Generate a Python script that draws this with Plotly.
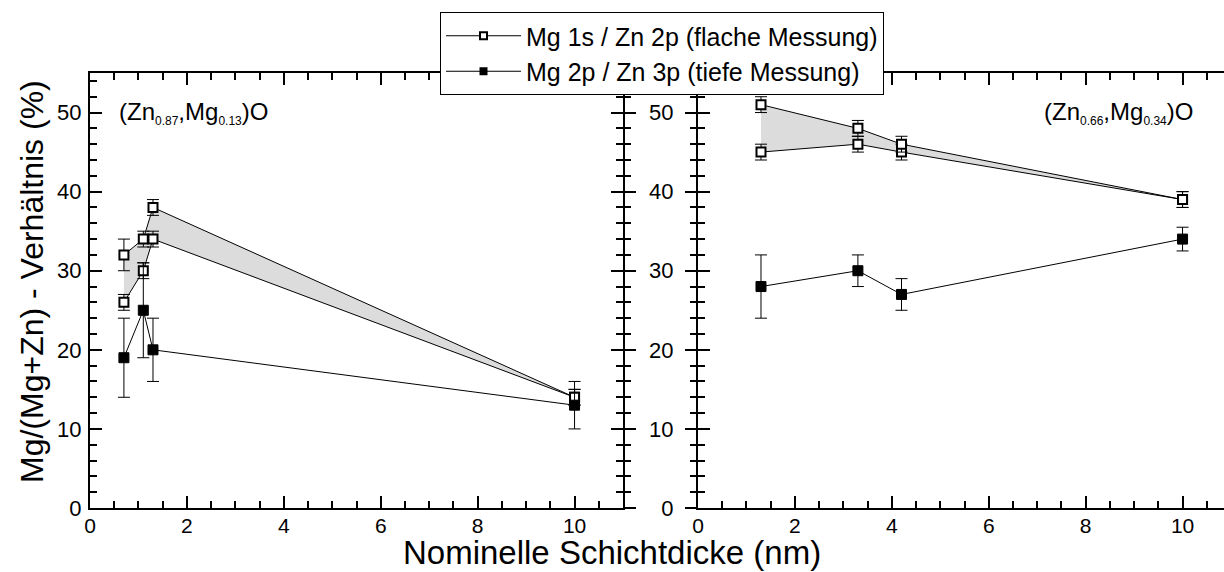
import plotly.graph_objects as go

# ---------------- data ----------------
left_x = [0.7, 1.1, 1.3, 10]
left_flach_upper = [32, 34, 38, 14]
left_flach_upper_err = [2, 1, 1, 1]
left_flach_lower = [26, 30, 34, 14]
left_flach_lower_err = [1, 1, 1, 1]
left_tief = [19, 25, 20, 13]
left_tief_err = [5, 6, 4, 3]

right_x = [1.3, 3.3, 4.2, 10]
right_flach_upper = [51, 48, 46, 39]
right_flach_upper_err = [1, 1, 1, 1]
right_flach_lower = [45, 46, 45, 39]
right_flach_lower_err = [1, 1, 1, 1]
right_tief = [28, 30, 27, 34]
right_tief_err = [4, 2, 2, 1.5]

legend_names = ["Mg 1s / Zn 2p (flache Messung)", "Mg 2p / Zn 3p (tiefe Messung)"]
SUB = "<sub><span style='font-size:12px'>{}</span></sub>"
panel_labels = ["(Zn" + SUB.format("0.87") + ",Mg" + SUB.format("0.13") + ")O",
                "(Zn" + SUB.format("0.66") + ",Mg" + SUB.format("0.34") + ")O"]
x_title = "Nominelle Schichtdicke (nm)"
y_title = "Mg/(Mg+Zn) - Verhältnis (%)"

FONT = "Liberation Sans, Arial, sans-serif"
FILL = "#dcdcdc"

open_marker = dict(symbol="square", size=9, color="white", line=dict(color="black", width=2))
solid_marker = dict(symbol="square", size=10, color="black", line=dict(color="black", width=1))


def err(a):
    return dict(type="data", array=a, visible=True, color="black", thickness=1, width=6)


fig = go.Figure()

# left panel, open series: lower edge then upper edge (filled between)
fig.add_trace(go.Scatter(x=left_x, y=left_flach_lower, mode="lines+markers",
                         line=dict(color="black", width=1), marker=open_marker,
                         error_y=err(left_flach_lower_err), showlegend=False,
                         xaxis="x", yaxis="y"))
fig.add_trace(go.Scatter(x=left_x, y=left_flach_upper, mode="lines+markers",
                         line=dict(color="black", width=1), marker=open_marker,
                         fill="tonexty", fillcolor=FILL,
                         error_y=err(left_flach_upper_err), showlegend=False,
                         xaxis="x", yaxis="y"))
# right panel, open series
fig.add_trace(go.Scatter(x=right_x, y=right_flach_lower, mode="lines+markers",
                         line=dict(color="black", width=1), marker=open_marker,
                         error_y=err(right_flach_lower_err), showlegend=False,
                         xaxis="x2", yaxis="y2"))
fig.add_trace(go.Scatter(x=right_x, y=right_flach_upper, mode="lines+markers",
                         line=dict(color="black", width=1), marker=open_marker,
                         fill="tonexty", fillcolor=FILL,
                         error_y=err(right_flach_upper_err), showlegend=False,
                         xaxis="x2", yaxis="y2"))
# solid series
fig.add_trace(go.Scatter(x=left_x, y=left_tief, mode="lines+markers",
                         line=dict(color="black", width=1), marker=solid_marker,
                         error_y=err(left_tief_err), showlegend=False,
                         xaxis="x", yaxis="y"))
fig.add_trace(go.Scatter(x=right_x, y=right_tief, mode="lines+markers",
                         line=dict(color="black", width=1), marker=solid_marker,
                         error_y=err(right_tief_err), showlegend=False,
                         xaxis="x2", yaxis="y2"))

# legend entries
fig.add_trace(go.Scatter(x=[None], y=[None], mode="lines+markers", name=legend_names[0],
                         line=dict(color="black", width=1),
                         marker=dict(symbol="square", size=7, color="white", line=dict(color="black", width=2)),
                         xaxis="x", yaxis="y"))
fig.add_trace(go.Scatter(x=[None], y=[None], mode="lines+markers", name=legend_names[1],
                         line=dict(color="black", width=1),
                         marker=dict(symbol="square", size=8, color="black"),
                         xaxis="x", yaxis="y"))
# empty traces to activate overlay axes
fig.add_trace(go.Scatter(x=[None], y=[None], showlegend=False, xaxis="x", yaxis="y3"))
fig.add_trace(go.Scatter(x=[None], y=[None], showlegend=False, xaxis="x2", yaxis="y4"))

L, R, T, B = 90, 0, 73, 64
W, H = 1224, 572
pw = W - L - R
ph = H - T - B
x1_end = (623 - L) / pw
x2_start = (698 - L) / pw
px_per_unit = (623 - 90) / 11.0
x2_max = (W - 698) / px_per_unit

tickfont = dict(family=FONT, size=22, color="black")
xtickfont = dict(family=FONT, size=21, color="black")
common_x = dict(dtick=2, tick0=0, ticks="inside", ticklen=12, tickwidth=2, tickcolor="black",
                showline=True, linewidth=2, linecolor="black", mirror="ticks",
                showgrid=False, zeroline=False, tickfont=xtickfont, ticklabelstandoff=-2,
                minor=dict(dtick=0.5, ticks="inside", ticklen=7, tickwidth=2, tickcolor="black", showgrid=False))
common_y = dict(range=[0, 55], dtick=10, tick0=0, ticks="inside", ticklen=12, tickwidth=2, tickcolor="black",
                showline=True, linewidth=2, linecolor="black",
                showgrid=False, zeroline=False, tickfont=tickfont,
                minor=dict(dtick=2, ticks="inside", ticklen=7, tickwidth=2, tickcolor="black", showgrid=False))
out_y = dict(range=[0, 55], dtick=10, tick0=0, ticks="outside", ticklen=12, tickwidth=2, tickcolor="black",
             showline=False, showgrid=False, zeroline=False, showticklabels=False,
             minor=dict(dtick=2, ticks="outside", ticklen=7, tickwidth=2, tickcolor="black", showgrid=False))

fig.update_layout(
    width=W, height=H,
    margin=dict(l=L, r=R, t=T, b=B, autoexpand=False),
    paper_bgcolor="white", plot_bgcolor="white",
    font=dict(family=FONT, color="black"),
    xaxis=dict(domain=[0, x1_end], range=[0, 11], anchor="y", **common_x),
    yaxis=dict(domain=[0, 1], anchor="x", mirror="ticks", ticklabelstandoff=2, **common_y),
    xaxis2=dict(domain=[x2_start, 1], range=[0, x2_max], anchor="y2", **common_x),
    yaxis2=dict(domain=[0, 1], anchor="x2", mirror=False, ticklabelstandoff=18, **common_y),
    yaxis3=dict(overlaying="y", side="right", anchor="x", **out_y),
    yaxis4=dict(overlaying="y2", side="left", anchor="x2", **out_y),
    showlegend=True,
    legend=dict(x=(440 - L) / pw, y=(H - B - 12) / ph, xanchor="left", yanchor="top",
                bgcolor="white", bordercolor="black", borderwidth=1, traceorder="normal",
                itemwidth=75, tracegroupgap=0,
                font=dict(family=FONT, size=25, color="black")),
)

# panel labels
fig.add_annotation(x=(117 - 90) / px_per_unit, y=50, xref="x", yref="y", xanchor="left", yanchor="middle",
                   text=panel_labels[0], showarrow=False, font=dict(family=FONT, size=24, color="black"))
fig.add_annotation(x=(1195 - 698) / px_per_unit, y=50, xref="x2", yref="y2", xanchor="right", yanchor="middle",
                   text=panel_labels[1], showarrow=False, font=dict(family=FONT, size=24, color="black"))

# axis titles
fig.add_annotation(x=(612 - L) / pw, y=(H - B - 552) / ph, xref="paper", yref="paper",
                   xanchor="center", yanchor="middle", text=x_title, showarrow=False,
                   font=dict(family=FONT, size=33, color="black"))
fig.add_annotation(x=(32 - L) / pw, y=(H - B - 282) / ph, xref="paper", yref="paper",
                   xanchor="center", yanchor="middle", text=y_title, textangle=-90, showarrow=False,
                   font=dict(family=FONT, size=32, color="black"))

fig.write_html("out.html")
